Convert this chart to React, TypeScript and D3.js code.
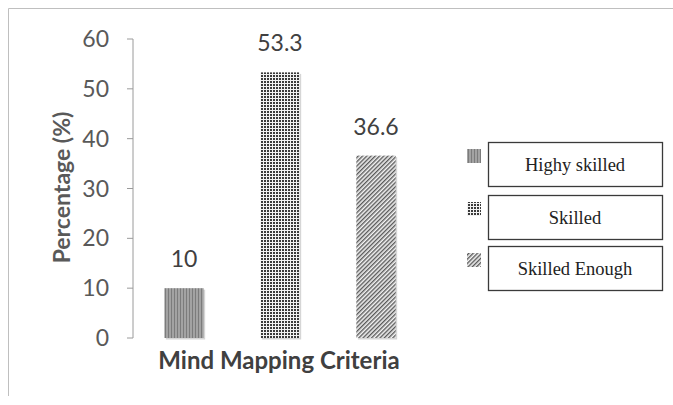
import React from "react";
import * as d3 from "d3";

const categories = ["Highy skilled", "Skilled", "Skilled Enough"];
const values = [10, 53.3, 36.6];
const valueLabels = ["10", "53.3", "36.6"];
const yTicks = [0, 10, 20, 30, 40, 50, 60];
const patternIds = ["pStripe", "pDots", "pHatch"];

const W = 673;
const H = 405;

export default function App() {
  const y = d3.scaleLinear().domain([0, 60]).range([338, 39]);
  const x = d3
    .scaleBand<string>()
    .domain(categories)
    .range([136, 424])
    .paddingInner(0.59)
    .paddingOuter(0.295);

  const font = "Lato, 'Open Sans', sans-serif";
  const legendTop = [142, 195, 246];

  return (
    <div style={{ position: "absolute", left: 0, top: 0 }}>
      <svg width={W} height={H} style={{ display: "block", background: "#fff" }}>
        <defs>
          {/* vertical stripes for the first bar */}
          <pattern id="pStripe" width={3} height={3} patternUnits="userSpaceOnUse">
            <rect width={3} height={3} fill="#a3a3a3" />
            <rect width={1} height={3} fill="#7c7c7c" />
          </pattern>
          {/* small dark squares */}
          <pattern id="pDots" width={3} height={3} patternUnits="userSpaceOnUse">
            <rect width={3} height={3} fill="#f2f2f2" />
            <rect width={2} height={2} fill="#3a3a3a" />
          </pattern>
          {/* diagonal hatching */}
          <pattern
            id="pHatch"
            width={3}
            height={3}
            patternUnits="userSpaceOnUse"
            patternTransform="rotate(45)"
          >
            <rect width={3} height={3} fill="#f4f4f4" />
            <rect width={1.4} height={3} fill="#5a5a5a" />
          </pattern>
        </defs>

        {/* outer frame */}
        <line x1={8.5} y1={8.5} x2={W} y2={8.5} stroke="#bfbfbf" />
        <line x1={8.5} y1={8.5} x2={8.5} y2={396} stroke="#bfbfbf" />

        {/* y axis */}
        <line x1={133} x2={133} y1={y(60)} y2={y(0)} stroke="#9a9a9a" />
        {yTicks.map((t) => (
          <g key={t}>
            <line x1={127} x2={133} y1={y(t)} y2={y(t)} stroke="#9a9a9a" />
            <text
              x={109}
              y={y(t)}
              dy="0.35em"
              textAnchor="end"
              fontFamily={font}
              fontSize={23}
              fill="#595959"
            >
              {t}
            </text>
          </g>
        ))}

        <text
          transform={`translate(62, ${(y(0) + y(60)) / 2 - 1}) rotate(-90)`}
          textAnchor="middle"
          dy="0.35em"
          fontFamily={font}
          fontWeight="bold"
          fontSize={23}
          fill="#595959"
        >
          Percentage (%)
        </text>

        {/* bars */}
        {categories.map((c, i) => (
          <g key={c}>
            <rect
              x={(x(c) as number) + 1.5}
              y={y(values[i]) + 1.5}
              width={x.bandwidth()}
              height={y(0) - y(values[i])}
              fill="#d6d6d6"
            />
            <rect
              x={x(c)}
              y={y(values[i])}
              width={x.bandwidth()}
              height={y(0) - y(values[i])}
              fill={`url(#${patternIds[i]})`}
            />
            <text
              x={(x(c) as number) + x.bandwidth() / 2}
              y={y(values[i]) - 29}
              dy="0.35em"
              textAnchor="middle"
              fontFamily={font}
              fontSize={23}
              fill="#404040"
            >
              {valueLabels[i]}
            </text>
          </g>
        ))}

        <text
          x={279}
          y={361}
          dy="0.35em"
          textAnchor="middle"
          fontFamily={font}
          fontWeight="bold"
          fontSize={24}
          fill="#404040"
        >
          Mind Mapping Criteria
        </text>

        {/* legend */}
        {categories.map((c, i) => (
          <g key={c}>
            <rect
              x={467}
              y={legendTop[i] + 7}
              width={14}
              height={14}
              fill={`url(#${patternIds[i]})`}
            />
            <rect
              x={488.5}
              y={legendTop[i] + 0.5}
              width={174}
              height={44}
              fill="#fff"
              stroke="#3a3a3a"
              strokeWidth={1.3}
            />
            <text
              x={575}
              y={legendTop[i] + 23}
              dy="0.35em"
              textAnchor="middle"
              fontFamily="'Liberation Serif', 'Times New Roman', serif"
              fontSize={18.5}
              fill="#222"
            >
              {c}
            </text>
          </g>
        ))}
      </svg>
    </div>
  );
}
